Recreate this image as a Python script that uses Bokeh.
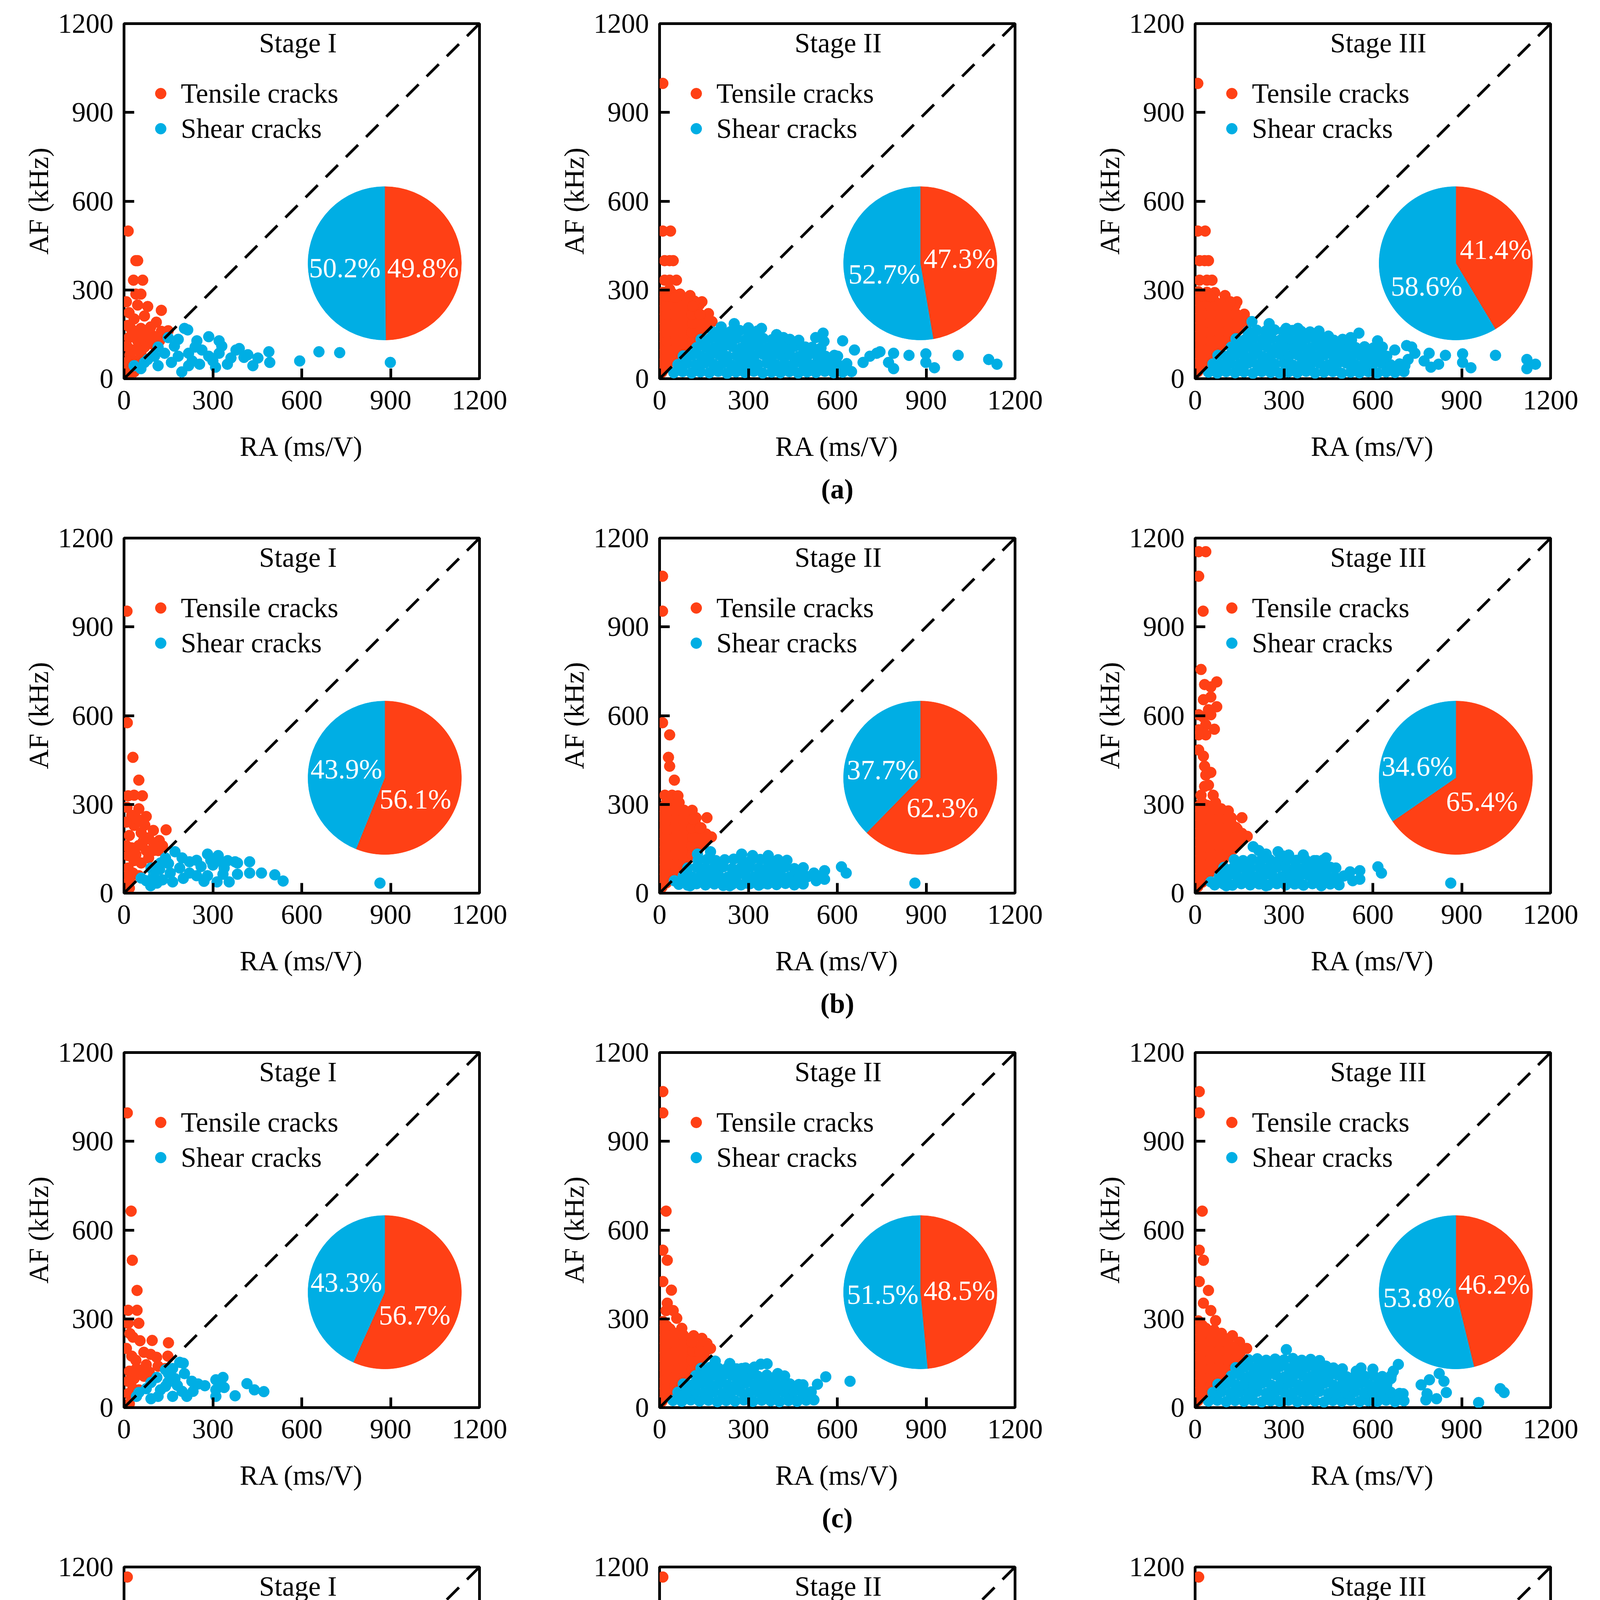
import math
from bokeh.plotting import figure
from bokeh.models import Range1d, FixedTicker, Label, Legend, LegendItem, Title, Slope
from bokeh.layouts import column, row
from bokeh.embed import file_html
from bokeh.resources import INLINE

FONT = "Liberation Serif"
RED = "#FF4015"
BLUE = "#00AEE4"
FS = "71px"

stages = ["Stage I", "Stage II", "Stage III"]
captions = ["(a)", "(b)", "(c)", "(d)"]
axis_ticks = [0, 300, 600, 900, 1200]

# tensile share (%) of each pie, rows (a)-(d), columns Stage I-III
tensile_share = [[49.8, 47.3, 41.4],
                 [56.1, 62.3, 65.4],
                 [56.7, 48.5, 46.2],
                 [59.4, 45.7, 46.3]]

# (RA ms/V, AF kHz) pairs
a1_tensile = [(14, 499), (40, 399), (46, 399), (32, 333), (63, 333), (57, 286), (40, 286), (17, 223), (46, 249),
              (80, 244), (126, 231), (69, 212), (109, 191), (34, 202), (57, 170), (23, 170), (149, 162), (126, 160),
              (92, 149), (17, 139), (46, 128), (80, 118), (29, 97), (57, 86), (23, 55), (34, 23), (11, 34), (103, 139),
              (69, 107), (120, 128), (10, 110), (12, 180), (40, 60), (8, 260), (90, 175), (60, 140), (10, 10),
              (20, 80), (45, 100), (75, 150), (100, 115), (130, 145), (35, 150), (15, 60)]
a1_shear = [(204, 170), (215, 165), (149, 139), (286, 142), (321, 128), (246, 128), (183, 133), (389, 102), (418, 81),
            (489, 91), (492, 55), (452, 70), (435, 44), (593, 60), (658, 91), (728, 88), (899, 55), (255, 49),
            (195, 23), (309, 39), (349, 49), (361, 70), (378, 97), (263, 97), (218, 86), (160, 55), (115, 44),
            (69, 55), (57, 34), (103, 76), (137, 86), (183, 76), (218, 44), (286, 76), (321, 86), (240, 107),
            (115, 107), (80, 65), (34, 44), (330, 110), (300, 60), (405, 72), (170, 110), (230, 60)]

a2_tensile = [(11, 998), (11, 499), (37, 499), (17, 399), (34, 399), (46, 399), (17, 333), (34, 333), (57, 333),
              (69, 286), (34, 302), (103, 281), (143, 260), (149, 212), (177, 193),
              (8, 22), (10, 52), (7, 82), (11, 112), (8, 142), (10, 172), (7, 202), (11, 232), (8, 262), (12, 292),
              (38, 58), (35, 88), (40, 118), (37, 148), (34, 178), (40, 208), (37, 238), (35, 268), (41, 290),
              (66, 88), (69, 118), (64, 148), (70, 178), (66, 208), (68, 238), (63, 262),
              (95, 118), (98, 148), (93, 178), (97, 208), (100, 236), (91, 258),
              (125, 148), (122, 178), (128, 206), (121, 232), (152, 176), (157, 203), (134, 250), (165, 220),
              (118, 262),
              (23, 37), (24, 67), (22, 97), (25, 127), (23, 157), (21, 187), (24, 217), (22, 247), (25, 277),
              (52, 67), (50, 97), (53, 127), (51, 157), (54, 187), (50, 217), (52, 247), (53, 275),
              (80, 97), (82, 127), (79, 157), (81, 187), (83, 217), (80, 247),
              (110, 127), (108, 157), (111, 187), (109, 217), (112, 245), (138, 157), (140, 187), (137, 217)]
a2_shear = [(252, 186), (344, 170), (300, 172), (208, 175), (395, 149), (418, 139), (456, 123), (527, 139),
            (552, 154), (555, 126), (618, 128), (658, 97), (687, 55), (710, 76), (733, 86), (744, 91), (790, 86),
            (773, 55), (790, 34), (842, 79), (899, 84), (899, 55), (928, 37), (1008, 79), (1111, 65), (1139, 49),
            (532, 55), (567, 34), (630, 39), (601, 76), (492, 34), (492, 107),
            (48, 20), (78, 24), (108, 19), (138, 23), (168, 20), (198, 25), (228, 18), (258, 23), (288, 21),
            (318, 25), (348, 19), (378, 22), (408, 20), (438, 24), (468, 19), (498, 23), (528, 21), (558, 25),
            (588, 20), (618, 22), (648, 24),
            (62, 48), (92, 52), (122, 47), (152, 53), (182, 49), (212, 51), (242, 46), (272, 52), (302, 50),
            (332, 48), (362, 53), (392, 47), (422, 51), (452, 49), (482, 52), (512, 46), (542, 50), (572, 53),
            (602, 48), (632, 51),
            (80, 77), (110, 80), (140, 76), (170, 79), (200, 81), (230, 75), (260, 78), (290, 80), (320, 77),
            (350, 82), (380, 76), (410, 79), (440, 81), (470, 75), (500, 78), (530, 80), (560, 76), (590, 79),
            (125, 105), (155, 108), (185, 104), (215, 107), (245, 109), (275, 103), (305, 106), (335, 108),
            (365, 104), (395, 107), (425, 105), (455, 109), (485, 103), (515, 106), (545, 104),
            (140, 133), (170, 136), (200, 132), (230, 135), (260, 137), (290, 131), (320, 134), (350, 136),
            (380, 132), (410, 135), (440, 133), (470, 130),
            (180, 158), (210, 162), (240, 159), (270, 163), (300, 158), (330, 161)]

a3_tensile = [(9, 998), (9, 499), (34, 499), (15, 399), (32, 399), (45, 399), (15, 333), (40, 333), (57, 333),
              (66, 291), (101, 281), (141, 260), (147, 212), (175, 196),
              (9, 24), (11, 54), (8, 84), (12, 114), (9, 144), (11, 174), (8, 204), (12, 234), (9, 264), (11, 294),
              (39, 56), (36, 86), (41, 116), (38, 146), (35, 176), (41, 206), (38, 236), (36, 266), (40, 292),
              (67, 86), (70, 116), (65, 146), (71, 176), (67, 206), (69, 236), (64, 264),
              (96, 116), (99, 146), (94, 176), (98, 206), (101, 234), (92, 256),
              (126, 146), (123, 176), (129, 206), (122, 230), (153, 174), (158, 201), (135, 248), (166, 218),
              (119, 260),
              (24, 39), (23, 69), (25, 99), (22, 129), (24, 159), (23, 189), (25, 219), (22, 249), (24, 279),
              (53, 69), (51, 99), (54, 129), (52, 159), (50, 189), (53, 219), (51, 249), (52, 277),
              (81, 99), (83, 129), (80, 159), (82, 189), (84, 219), (79, 249),
              (111, 129), (109, 159), (112, 189), (110, 219), (108, 243), (139, 159), (141, 189), (138, 219)]
a3_shear = [(192, 193), (250, 186), (347, 170), (307, 170), (387, 154), (450, 144), (525, 139), (553, 154),
            (616, 128), (674, 97), (714, 112), (731, 107), (742, 86), (719, 65), (708, 44), (790, 86), (796, 39),
            (773, 60), (822, 49), (845, 79), (903, 84), (903, 55), (931, 37), (1014, 79), (1120, 65), (1120, 34),
            (1149, 49), (639, 65), (674, 39), (570, 39), (605, 65),
            (45, 22), (75, 19), (105, 24), (135, 20), (165, 23), (195, 18), (225, 24), (255, 21), (285, 19),
            (315, 23), (345, 20), (375, 25), (405, 19), (435, 22), (465, 24), (495, 18), (525, 22), (555, 20),
            (585, 24), (615, 19), (645, 23), (675, 21), (705, 24),
            (60, 50), (90, 47), (120, 52), (150, 49), (180, 53), (210, 47), (240, 51), (270, 49), (300, 53),
            (330, 46), (360, 51), (390, 49), (420, 52), (450, 47), (480, 50), (510, 53), (540, 48), (570, 51),
            (600, 49), (630, 52), (660, 47), (690, 50),
            (77, 79), (107, 76), (137, 81), (167, 77), (197, 80), (227, 75), (257, 79), (287, 82), (317, 76),
            (347, 80), (377, 78), (407, 75), (437, 81), (467, 77), (497, 79), (527, 76), (557, 80), (587, 78),
            (617, 81), (647, 76),
            (122, 107), (152, 104), (182, 109), (212, 105), (242, 108), (272, 103), (302, 107), (332, 105),
            (362, 109), (392, 104), (422, 106), (452, 108), (482, 103), (512, 107), (542, 105), (572, 108),
            (602, 104), (632, 107),
            (138, 135), (168, 132), (198, 137), (228, 133), (258, 136), (288, 131), (318, 135), (348, 133),
            (378, 137), (408, 132), (438, 134), (468, 130), (498, 133), (528, 131),
            (178, 160), (208, 164), (238, 161), (268, 165), (298, 159), (328, 163), (358, 160), (388, 158),
            (418, 161)]

b1_tensile = [(10, 953), (11, 576), (30, 459), (50, 382), (62, 329), (34, 331), (14, 329), (50, 285), (75, 259),
              (26, 263), (142, 214), (99, 212), (119, 178), (83, 187), (34, 229), (58, 204), (18, 195), (26, 153),
              (50, 161), (75, 144), (99, 144), (14, 127), (34, 110), (58, 102), (83, 119), (14, 85), (30, 68),
              (50, 59), (18, 42), (18, 17), (115, 144), (8, 240), (10, 290), (40, 130), (65, 175), (100, 170),
              (130, 160), (8, 160), (45, 250), (70, 230), (10, 60)]
b1_shear = [(58, 51), (75, 42), (111, 34), (164, 38), (140, 119), (172, 140), (196, 119), (221, 68), (245, 111),
            (282, 132), (282, 59), (318, 127), (314, 38), (338, 85), (355, 38), (375, 106), (383, 64), (424, 106),
            (424, 68), (464, 68), (509, 62), (537, 41), (864, 34), (91, 85), (123, 102), (156, 68), (188, 85),
            (221, 106), (245, 59), (293, 111), (334, 64), (383, 102), (100, 60), (130, 45), (200, 50), (260, 90),
            (300, 95), (350, 110), (120, 80), (90, 25), (150, 100), (270, 40), (330, 105)]

b2_tensile = [(10, 1071), (10, 953), (10, 576), (34, 535), (30, 459), (34, 429), (50, 382), (18, 331), (42, 331),
              (62, 329), (66, 306), (83, 280), (123, 255), (160, 255), (140, 221), (148, 187),
              (8, 20), (10, 50), (7, 80), (11, 110), (8, 140), (10, 170), (7, 200), (11, 230), (8, 260), (12, 290),
              (38, 55), (35, 85), (40, 115), (37, 145), (34, 175), (40, 205), (37, 235), (35, 265), (41, 295),
              (66, 85), (69, 115), (64, 145), (70, 175), (66, 205), (68, 235), (63, 265), (60, 300),
              (95, 115), (98, 145), (93, 175), (97, 205), (100, 235), (91, 262),
              (125, 145), (122, 175), (128, 205), (121, 235), (152, 172), (157, 200), (110, 280), (175, 190),
              (23, 35), (24, 65), (22, 95), (25, 125), (23, 155), (21, 185), (24, 215), (22, 245), (25, 275),
              (23, 305), (52, 70), (50, 100), (53, 130), (51, 160), (54, 190), (50, 220), (52, 250), (53, 280),
              (80, 100), (82, 130), (79, 160), (81, 190), (83, 220), (80, 250), (82, 280),
              (110, 130), (108, 160), (111, 190), (109, 220), (112, 250), (138, 160), (140, 190), (137, 220)]
b2_shear = [(314, 127), (367, 127), (277, 132), (172, 140), (128, 132), (424, 106), (472, 72), (521, 68), (557, 76),
            (557, 47), (614, 89), (630, 68), (862, 34), (529, 42), (456, 42), (407, 42), (351, 34), (294, 34),
            (237, 25), (196, 47), (160, 34), (103, 25), (50, 42),
            (65, 30), (95, 27), (125, 32), (155, 28), (185, 31), (215, 26), (245, 30), (275, 28), (305, 32),
            (335, 27), (365, 31), (395, 29), (425, 33), (455, 28), (485, 31),
            (80, 58), (110, 55), (140, 60), (170, 56), (200, 59), (230, 54), (260, 58), (290, 61), (320, 55),
            (350, 59), (380, 57), (410, 60), (440, 55), (470, 58), (500, 56), (530, 59),
            (95, 85), (125, 88), (155, 84), (185, 87), (215, 89), (245, 83), (275, 86), (305, 88), (335, 84),
            (365, 87), (395, 85), (425, 89), (455, 83), (485, 86),
            (130, 111), (160, 114), (190, 110), (220, 113), (250, 115), (280, 109), (310, 112), (340, 114),
            (370, 110), (400, 113), (430, 111)]

b3_tensile = [(12, 1154), (36, 1154), (12, 1071), (27, 953), (20, 756), (32, 705), (73, 714), (53, 697), (53, 663),
              (28, 654), (73, 630), (45, 620), (28, 595), (53, 603), (12, 603), (65, 554), (36, 569), (12, 552),
              (36, 535), (12, 535), (12, 484), (28, 463), (32, 429), (53, 408), (36, 399), (45, 365), (32, 361),
              (20, 331), (61, 331), (69, 306), (122, 255), (158, 255), (142, 217),
              (9, 22), (11, 52), (8, 82), (12, 112), (9, 142), (11, 172), (8, 202), (12, 232), (9, 262), (11, 292),
              (39, 57), (36, 87), (41, 117), (38, 147), (35, 177), (41, 207), (38, 237), (36, 267), (40, 297),
              (67, 87), (70, 117), (65, 147), (71, 177), (67, 207), (69, 237), (64, 267), (88, 285),
              (96, 117), (99, 147), (94, 177), (98, 207), (101, 237), (92, 262),
              (126, 147), (123, 177), (129, 207), (122, 235), (153, 174), (158, 202), (112, 278), (176, 192),
              (24, 37), (23, 67), (25, 97), (22, 127), (24, 157), (23, 187), (25, 217), (22, 247), (24, 277),
              (23, 307), (53, 72), (51, 102), (54, 132), (52, 162), (50, 192), (53, 222), (51, 252), (52, 282),
              (81, 102), (83, 132), (80, 162), (82, 192), (84, 222), (79, 252), (81, 278),
              (111, 132), (109, 162), (112, 192), (110, 222), (108, 250), (139, 162), (141, 192), (138, 222)]
b3_shear = [(196, 157), (215, 144), (280, 140), (316, 129), (365, 129), (442, 119), (410, 110), (475, 85), (523, 72),
            (556, 76), (556, 47), (617, 89), (629, 68), (863, 34), (532, 42), (458, 34), (426, 25), (353, 34),
            (239, 25), (199, 44), (105, 25), (53, 38),
            (66, 28), (96, 31), (126, 27), (156, 32), (186, 28), (216, 31), (246, 27), (276, 32), (306, 28),
            (336, 31), (366, 27), (396, 32), (426, 29), (456, 31), (486, 28),
            (82, 57), (112, 60), (142, 56), (172, 59), (202, 55), (232, 60), (262, 57), (292, 55), (322, 59),
            (352, 56), (382, 60), (412, 57), (442, 59), (472, 55), (502, 58),
            (97, 87), (127, 84), (157, 88), (187, 85), (217, 87), (247, 84), (277, 88), (307, 85), (337, 87),
            (367, 84), (397, 88), (427, 85), (457, 87),
            (132, 113), (162, 110), (192, 114), (222, 111), (252, 113), (282, 110), (312, 114), (342, 111),
            (372, 113), (402, 110), (432, 112), (240, 132), (300, 125)]

c1_tensile = [(11, 996), (24, 664), (28, 498), (44, 396), (14, 329), (44, 329), (14, 285), (50, 285), (30, 238),
              (54, 226), (95, 227), (150, 219), (67, 187), (26, 174), (148, 174), (75, 145), (115, 140), (139, 132),
              (18, 123), (42, 132), (58, 115), (14, 89), (34, 98), (67, 106), (14, 47), (30, 64), (18, 13),
              (8, 200), (40, 160), (90, 180), (110, 170), (50, 60), (85, 120), (20, 250)]
c1_shear = [(188, 153), (140, 128), (164, 132), (204, 115), (229, 89), (172, 98), (148, 85), (111, 102), (91, 85),
            (75, 64), (50, 51), (42, 38), (91, 30), (115, 38), (164, 38), (196, 55), (212, 38), (233, 55),
            (273, 74), (310, 94), (334, 102), (322, 81), (310, 38), (310, 60), (338, 68), (375, 40), (415, 81),
            (440, 60), (472, 54), (123, 60), (140, 72), (180, 75), (150, 115), (200, 150), (250, 80)]

c2_tensile = [(11, 1068), (11, 996), (22, 664), (11, 532), (26, 498), (11, 426), (40, 397), (26, 353), (22, 328),
              (46, 328), (58, 302), (75, 268), (115, 243), (143, 234), (160, 217), (172, 200), (140, 209),
              (119, 200),
              (8, 21), (10, 51), (7, 81), (11, 111), (8, 141), (10, 171), (7, 201), (11, 231), (8, 261), (12, 291),
              (38, 56), (35, 86), (40, 116), (37, 146), (34, 176), (40, 206), (37, 236), (35, 266),
              (66, 86), (69, 116), (64, 146), (70, 176), (66, 206), (68, 236),
              (95, 116), (98, 146), (93, 176), (97, 206), (92, 232),
              (125, 146), (122, 176), (150, 175), (160, 195),
              (23, 36), (24, 66), (22, 96), (25, 126), (23, 156), (21, 186), (24, 216), (22, 246), (24, 276),
              (52, 71), (50, 101), (53, 131), (51, 161), (54, 191), (50, 221), (52, 251),
              (80, 101), (82, 131), (79, 161), (81, 191), (83, 221), (80, 245),
              (110, 131), (108, 161), (111, 191), (109, 221), (138, 161), (137, 190)]
c2_shear = [(342, 147), (363, 148), (561, 104), (533, 79), (643, 89), (521, 26), (464, 21), (440, 47), (484, 77),
            (399, 115), (277, 132), (237, 149), (188, 157),
            (45, 24), (75, 21), (105, 26), (135, 22), (165, 25), (195, 20), (225, 24), (255, 22), (285, 26),
            (315, 21), (345, 25), (375, 23), (405, 20), (435, 24), (465, 22), (495, 25),
            (62, 52), (92, 49), (122, 54), (152, 50), (182, 53), (212, 48), (242, 52), (272, 55), (302, 49),
            (332, 53), (362, 51), (392, 48), (422, 52), (452, 55), (482, 50), (512, 53),
            (80, 80), (110, 77), (140, 82), (170, 78), (200, 81), (230, 76), (260, 80), (290, 83), (320, 77),
            (350, 81), (380, 79), (410, 76), (440, 80), (470, 78),
            (122, 108), (152, 105), (182, 110), (212, 106), (242, 109), (272, 104), (302, 108), (332, 106),
            (362, 110), (392, 105), (422, 107),
            (140, 133), (170, 136), (200, 132), (230, 135), (260, 131), (290, 134), (320, 137)]

c3_tensile = [(14, 1068), (14, 996), (24, 664), (14, 532), (28, 498), (14, 426), (45, 396), (28, 353), (53, 328),
              (69, 294), (89, 251), (126, 243), (150, 221), (174, 200),
              (9, 23), (11, 53), (8, 83), (12, 113), (9, 143), (11, 173), (8, 203), (12, 233), (9, 263), (11, 293),
              (39, 58), (36, 88), (41, 118), (38, 148), (35, 178), (41, 208), (38, 238), (36, 268),
              (67, 88), (70, 118), (65, 148), (71, 178), (67, 208), (69, 238), (64, 262),
              (96, 118), (99, 148), (94, 178), (98, 208), (110, 232),
              (126, 148), (123, 178), (129, 206), (152, 176), (160, 198),
              (24, 38), (23, 68), (25, 98), (22, 128), (24, 158), (23, 188), (25, 218), (22, 248), (24, 278),
              (53, 73), (51, 103), (54, 133), (52, 163), (50, 193), (53, 223), (51, 253),
              (81, 103), (83, 133), (80, 163), (82, 193), (84, 223), (80, 250),
              (111, 133), (109, 163), (112, 193), (110, 218), (139, 163), (138, 192)]
c3_shear = [(308, 196), (272, 162), (341, 149), (361, 149), (442, 140), (544, 123), (491, 123), (669, 123),
            (686, 146), (661, 98), (763, 77), (791, 94), (824, 115), (840, 89), (848, 51), (815, 30), (783, 47),
            (779, 26), (702, 47), (661, 30), (621, 30), (957, 17), (1030, 64), (1043, 51), (523, 26),
            (45, 22), (75, 25), (105, 20), (135, 24), (165, 21), (195, 25), (225, 19), (255, 23), (285, 21),
            (315, 25), (345, 20), (375, 24), (405, 22), (435, 19), (465, 24), (495, 21), (525, 25), (555, 20),
            (585, 23), (615, 21), (645, 25), (675, 20), (705, 23),
            (60, 51), (90, 54), (120, 49), (150, 53), (180, 50), (210, 55), (240, 48), (270, 52), (300, 54),
            (330, 49), (360, 53), (390, 50), (420, 55), (450, 48), (480, 52), (510, 50), (540, 54), (570, 49),
            (600, 53), (630, 50), (660, 52), (690, 48),
            (77, 79), (107, 82), (137, 77), (167, 81), (197, 78), (227, 83), (257, 76), (287, 80), (317, 82),
            (347, 77), (377, 81), (407, 78), (437, 83), (467, 76), (497, 80), (527, 78), (557, 82), (587, 77),
            (617, 80), (647, 78),
            (122, 107), (152, 110), (182, 105), (212, 109), (242, 106), (272, 111), (302, 104), (332, 108),
            (362, 110), (392, 105), (422, 109), (452, 106), (482, 110), (512, 104), (542, 108), (572, 106),
            (602, 109), (632, 105), (662, 108),
            (137, 135), (167, 138), (197, 133), (227, 137), (257, 134), (287, 139), (317, 132), (347, 136),
            (377, 138), (407, 133), (437, 137), (467, 134), (497, 131), (560, 134), (600, 130),
            (180, 162), (210, 165), (240, 160), (270, 164), (300, 161), (330, 166), (360, 160), (390, 163),
            (420, 159)]

d1_tensile = [(11, 1166), (11, 585), (38, 583), (30, 467), (50, 441), (42, 390), (67, 390), (58, 350), (30, 327),
              (58, 293), (83, 293), (14, 276), (38, 276), (38, 233), (91, 254), (148, 233), (123, 208), (148, 195),
              (58, 191), (79, 182), (99, 165), (18, 208), (18, 157), (42, 165), (18, 115), (50, 123), (83, 140),
              (42, 89), (18, 64), (18, 21), (10, 240), (60, 230), (110, 200), (120, 160), (70, 150), (100, 120),
              (40, 50)]
d1_shear = [(168, 157), (140, 140), (172, 102), (123, 115), (99, 89), (75, 76), (50, 47), (75, 38), (123, 64),
            (156, 55), (196, 64), (237, 85), (253, 115), (265, 68), (286, 55), (302, 102), (334, 102), (383, 119),
            (383, 68), (403, 64), (371, 23), (444, 79), (476, 110), (488, 72), (505, 68), (529, 72), (570, 87),
            (742, 79), (14, 17), (150, 90), (110, 100), (200, 100), (130, 30), (180, 45)]

d2_tensile = [(11, 1166), (11, 997), (11, 585), (34, 583), (18, 500), (30, 469), (50, 441), (34, 399), (67, 390),
              (58, 352), (30, 331), (83, 293), (83, 267), (168, 260), (204, 229), (192, 215), (140, 233),
              (115, 216), (148, 199),
              (8, 22), (10, 52), (7, 82), (11, 112), (8, 142), (10, 172), (7, 202), (11, 232), (8, 262), (12, 292),
              (9, 322), (12, 350),
              (38, 57), (35, 87), (40, 117), (37, 147), (34, 177), (40, 207), (37, 237), (35, 267), (41, 297),
              (38, 325), (66, 87), (69, 117), (64, 147), (70, 177), (66, 207), (68, 237), (63, 267), (62, 300),
              (95, 117), (98, 147), (93, 177), (97, 207), (100, 237), (91, 267), (98, 300),
              (125, 147), (122, 177), (128, 207), (121, 250), (152, 177), (157, 210), (180, 195),
              (23, 37), (24, 67), (22, 97), (25, 127), (23, 157), (21, 187), (24, 217), (22, 247), (25, 277),
              (23, 307), (24, 336), (52, 72), (50, 102), (53, 132), (51, 162), (54, 192), (50, 222), (52, 252),
              (53, 282), (51, 310), (80, 102), (82, 132), (79, 162), (81, 192), (83, 222), (80, 252), (82, 282),
              (110, 132), (108, 162), (111, 192), (109, 222), (112, 240), (138, 162), (140, 192), (137, 222),
              (165, 190)]
d2_shear = [(273, 182), (371, 176), (626, 182), (641, 121), (509, 136), (671, 93), (740, 79), (700, 55), (635, 59),
            (639, 47), (602, 81), (586, 55), (537, 115), (480, 38), (367, 21), (196, 30), (115, 21),
            (46, 24), (76, 21), (106, 25), (136, 22), (166, 26), (196, 20), (226, 24), (256, 22), (286, 25),
            (316, 21), (346, 24), (376, 22), (406, 26), (436, 20), (466, 24), (496, 22), (526, 25), (556, 21),
            (586, 24), (616, 22),
            (61, 52), (91, 49), (121, 53), (151, 50), (181, 54), (211, 48), (241, 52), (271, 55), (301, 49),
            (331, 53), (361, 50), (391, 54), (421, 48), (451, 52), (481, 55), (511, 49), (541, 53), (571, 50),
            (601, 52),
            (76, 80), (106, 83), (136, 78), (166, 82), (196, 79), (226, 84), (256, 77), (286, 81), (316, 83),
            (346, 78), (376, 82), (406, 79), (436, 84), (466, 77), (496, 81), (526, 79), (556, 82),
            (121, 109), (151, 112), (181, 107), (211, 111), (241, 108), (271, 113), (301, 106), (331, 110),
            (361, 112), (391, 107), (421, 111), (451, 108), (481, 110), (511, 106),
            (136, 137), (166, 140), (196, 135), (226, 139), (256, 136), (286, 141), (316, 134), (346, 138),
            (376, 140), (406, 135),
            (179, 165), (209, 168), (239, 163), (269, 167), (299, 164), (329, 160)]

d3_tensile = [(12, 1166), (12, 997), (12, 585), (36, 585), (12, 505), (32, 500), (24, 467), (49, 441), (16, 399),
              (36, 399), (69, 390), (61, 352), (32, 335), (126, 284), (85, 276), (89, 254), (170, 263), (158, 250),
              (199, 233), (207, 225), (195, 215), (130, 237), (146, 216),
              (9, 23), (11, 53), (8, 83), (12, 113), (9, 143), (11, 173), (8, 203), (12, 233), (9, 263), (11, 293),
              (10, 322), (13, 352),
              (39, 58), (36, 88), (41, 118), (38, 148), (35, 178), (41, 208), (38, 238), (36, 268), (40, 298),
              (37, 326), (67, 88), (70, 118), (65, 148), (71, 178), (67, 208), (69, 238), (64, 268), (63, 302),
              (96, 118), (99, 148), (94, 178), (98, 208), (101, 238), (92, 268), (99, 300),
              (126, 148), (123, 178), (129, 208), (122, 252), (153, 178), (158, 210), (181, 196),
              (24, 38), (23, 68), (25, 98), (22, 128), (24, 158), (23, 188), (25, 218), (22, 248), (24, 278),
              (23, 308), (25, 338), (53, 73), (51, 103), (54, 133), (52, 163), (50, 193), (53, 223), (51, 253),
              (52, 283), (54, 312), (81, 103), (83, 133), (80, 163), (82, 193), (84, 223), (79, 253), (81, 283),
              (111, 133), (109, 163), (112, 193), (110, 223), (108, 245), (139, 163), (141, 193), (138, 223),
              (166, 192)]
d3_shear = [(191, 187), (280, 182), (292, 174), (369, 176), (385, 148), (627, 182), (641, 121), (499, 140),
            (515, 140), (442, 123), (738, 79), (758, 68), (758, 45), (698, 59), (669, 89), (944, 74), (944, 45),
            (1142, 65), (604, 81), (572, 55), (12, 17),
            (40, 21), (70, 25), (100, 20), (130, 24), (160, 22), (190, 26), (220, 20), (250, 24), (280, 21),
            (310, 25), (340, 22), (370, 20), (400, 24), (430, 21), (460, 25), (490, 22), (520, 20), (550, 24),
            (580, 21), (610, 25), (640, 22), (670, 20), (700, 24),
            (58, 50), (88, 53), (118, 48), (148, 52), (178, 49), (208, 54), (238, 47), (268, 51), (298, 53),
            (328, 48), (358, 52), (388, 49), (418, 54), (448, 47), (478, 51), (508, 49), (538, 53), (568, 48),
            (598, 52), (628, 49), (658, 51),
            (73, 79), (103, 82), (133, 77), (163, 81), (193, 78), (223, 83), (253, 76), (283, 80), (313, 82),
            (343, 77), (373, 81), (403, 78), (433, 83), (463, 76), (493, 80), (523, 78), (553, 82), (583, 77),
            (613, 80),
            (118, 108), (148, 111), (178, 106), (208, 110), (238, 107), (268, 112), (298, 105), (328, 109),
            (358, 111), (388, 106), (418, 110), (448, 107), (478, 111), (508, 105), (538, 109), (568, 106),
            (133, 137), (163, 140), (193, 135), (223, 139), (253, 136), (283, 141), (313, 134), (343, 138),
            (373, 140), (403, 135), (433, 138), (463, 133),
            (176, 165), (206, 168), (236, 163), (266, 167), (296, 164), (326, 169), (356, 162)]

tensile_sets = [[a1_tensile, a2_tensile, a3_tensile],
                [b1_tensile, b2_tensile, b3_tensile],
                [c1_tensile, c2_tensile, c3_tensile],
                [d1_tensile, d2_tensile, d3_tensile]]
shear_sets = [[a1_shear, a2_shear, a3_shear],
              [b1_shear, b2_shear, b3_shear],
              [c1_shear, c2_shear, c3_shear],
              [d1_shear, d2_shear, d3_shear]]

# where the two percentages sit inside each pie, in pie radii from its centre
pie_label_offsets = [
    [((0.50, -0.06), (-0.52, -0.06)), ((0.51, 0.06), (-0.47, -0.14)), ((0.52, 0.18), (-0.38, -0.30))],
    [((0.40, -0.28), (-0.50, 0.11)), ((0.29, -0.39), (-0.49, 0.10)), ((0.34, -0.31), (-0.50, 0.15))],
    [((0.39, -0.30), (-0.50, 0.13)), ((0.51, 0.02), (-0.49, -0.03)), ((0.50, 0.10), (-0.48, -0.07))],
    [((0.38, -0.39), (-0.47, 0.23)), ((0.50, 0.08), (-0.46, -0.23)), ((0.50, 0.07), (-0.47, -0.21))],
]

PIE_X, PIE_Y, PIE_R = 880, 390, 259

# panel geometry in page pixels
LEFT, FRAME_W, COL_W = 317, 910, 1371
TOP, FRAME_H, ROW_H = 60, 912, 1317


def make_panel(tensile, shear, stage, share, offsets, caption=None, last_col=False):
    right = 100 if last_col else COL_W - LEFT - FRAME_W
    p = figure(width=LEFT + FRAME_W + right, height=ROW_H, x_range=Range1d(0, 1200), y_range=Range1d(0, 1200),
               output_backend="svg", toolbar_location=None,
               min_border_left=LEFT, min_border_right=right,
               min_border_top=TOP, min_border_bottom=ROW_H - TOP - FRAME_H)
    p.grid.visible = False
    p.outline_line_color = "black"
    p.outline_line_width = 7
    p.background_fill_color = "white"
    p.border_fill_color = "white"

    for ax in (p.xaxis[0], p.yaxis[0]):
        ax.ticker = FixedTicker(ticks=axis_ticks)
        ax.major_tick_in = 26
        ax.major_tick_out = 0
        ax.major_tick_line_width = 7
        ax.major_tick_line_color = "black"
        ax.minor_tick_line_color = None
        ax.axis_line_color = None
        ax.major_label_text_font = FONT
        ax.major_label_text_font_size = FS
        ax.major_label_text_color = "black"
        ax.axis_label_text_font = FONT
        ax.axis_label_text_font_size = FS
        ax.axis_label_text_font_style = "normal"
        ax.axis_label_text_color = "black"
    p.xaxis.axis_label = "RA (ms/V)"
    p.yaxis.axis_label = "AF (kHz)"
    p.xaxis.major_label_standoff = 31
    p.xaxis.axis_label_standoff = 53
    p.yaxis.major_label_standoff = 27
    p.yaxis.axis_label_standoff = 8

    r_t = p.scatter([t[0] for t in tensile], [t[1] for t in tensile], size=28, color=RED, marker="circle")
    r_s = p.scatter([s[0] for s in shear], [s[1] for s in shear], size=28, color=BLUE, marker="circle")

    p.add_layout(Slope(gradient=1, y_intercept=0, line_color="black", line_width=7, line_dash="44 29"))

    # pie: tensile share clockwise from 12 o'clock, shear the rest
    top = math.pi / 2
    split = top - 2 * math.pi * share / 100
    p.wedge(x=[PIE_X], y=[PIE_Y], radius=[PIE_R], start_angle=[split], end_angle=[top], color=RED)
    p.wedge(x=[PIE_X], y=[PIE_Y], radius=[PIE_R], start_angle=[top], end_angle=[split + 2 * math.pi],
            color=BLUE)
    for (dx, dy), txt in zip(offsets, [f"{share:.1f}%", f"{100 - share:.1f}%"]):
        p.add_layout(Label(x=PIE_X + dx * PIE_R, y=PIE_Y + dy * PIE_R, text=txt, text_color="white",
                           text_font=FONT, text_font_size=FS, text_align="center", text_baseline="middle"))

    p.add_layout(Label(x=456, y=1134, text=stage, text_font=FONT, text_font_size=FS,
                       text_baseline="alphabetic", text_color="black"))

    legend = Legend(items=[LegendItem(label="Tensile cracks", renderers=[r_t]),
                           LegendItem(label="Shear cracks", renderers=[r_s])],
                    location=(59, 598), orientation="vertical", border_line_color=None,
                    background_fill_alpha=0, padding=0, margin=0, spacing=6,
                    glyph_width=70, glyph_height=70, label_height=84, label_standoff=17,
                    label_text_font=FONT, label_text_font_size=FS, label_text_color="black")
    p.add_layout(legend)

    if caption:
        p.add_layout(Title(text=caption, align="center", text_font=FONT, text_font_size=FS,
                           text_font_style="bold", text_color="black", standoff=53), "below")
    return p


rows = []
for i in range(4):
    panels = []
    for j in range(3):
        panels.append(make_panel(tensile_sets[i][j], shear_sets[i][j], stages[j], tensile_share[i][j],
                                 pie_label_offsets[i][j], caption=captions[i] if j == 1 else None,
                                 last_col=(j == 2)))
    rows.append(row(*panels))

layout = column(*rows)
open("out.html", "w").write(file_html(layout, INLINE))
